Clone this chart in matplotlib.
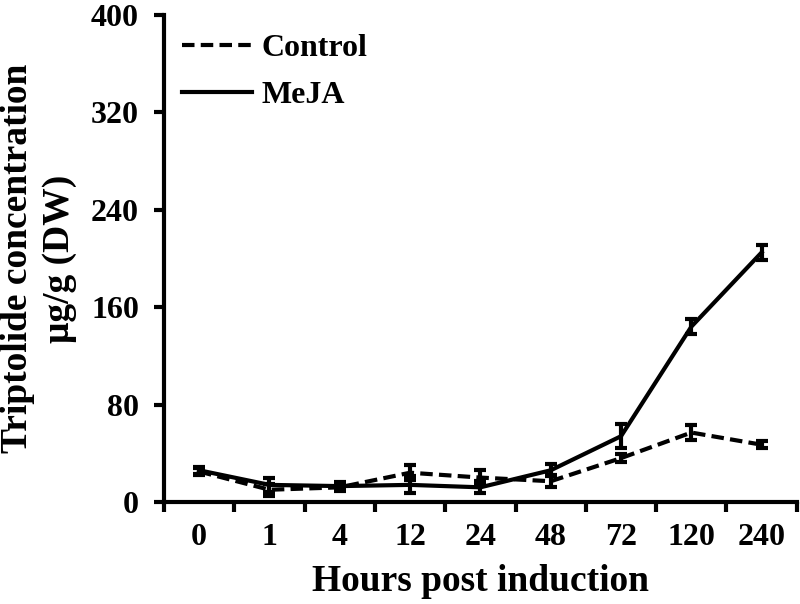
import matplotlib
matplotlib.use("Agg")
import matplotlib.pyplot as plt
from matplotlib.lines import Line2D
import numpy as np

categories = ["0", "1", "4", "12", "24", "48", "72", "120", "240"]
control = [25, 10, 12, 24, 20, 17, 36, 57, 47]
control_err = [3, 5, 3, 6, 6, 5, 3, 6, 3]
meja = [26, 14, 13, 14, 12, 26, 54, 144, 205]
meja_err = [3, 6, 3, 7, 5, 5, 10, 6, 6]

plt.rcParams['font.family'] = ['Liberation Serif', 'DejaVu Serif']
plt.rcParams['font.weight'] = 'bold'

fig = plt.figure(figsize=(8, 6.04), dpi=100)
ax = fig.add_axes([0.205, 0.169, 0.791, 0.806])

dash = (0, (3, 1.5))
x = np.arange(len(categories))
ax.errorbar(x, control, yerr=control_err, color='black', lw=3, ls=dash,
            capsize=4, capthick=3, elinewidth=3, label='Control')
ax.errorbar(x, meja, yerr=meja_err, color='black', lw=3, ls='-',
            capsize=4, capthick=3, elinewidth=3, label='MeJA')

ax.set_xlim(-0.5, len(categories) - 0.5)
ax.set_ylim(0, 400)
ax.set_yticks(np.arange(0, 401, 80))
ax.set_xticks(x)
ax.set_xticklabels(categories)
ax.set_xticks(np.arange(-0.5, len(categories), 1), minor=True)
ax.tick_params(axis='x', which='major', length=0, labelsize=23, pad=15)
ax.tick_params(axis='x', which='minor', length=7, width=3, direction='out')
ax.tick_params(axis='y', which='major', length=7, width=3, direction='out', labelsize=23, pad=11)
for lab in ax.get_xticklabels() + ax.get_yticklabels():
    lab.set_fontweight('bold')

for s in ['top', 'right']:
    ax.spines[s].set_visible(False)
for s in ['left', 'bottom']:
    ax.spines[s].set_linewidth(3)

ax.set_xlabel('Hours post induction', fontsize=27, fontweight='bold', labelpad=9)
ax.set_ylabel('Triptolide concentration\nμg/g (DW)', fontsize=27, fontweight='bold',
              labelpad=10, linespacing=1.25)

h = [Line2D([0], [0], color='black', lw=3, ls=dash),
     Line2D([0], [0], color='black', lw=3)]
ax.legend(h, ['Control', 'MeJA'], loc='upper left', frameon=False,
          prop={'size': 23, 'weight': 'bold'}, handlelength=2.2,
          handletextpad=0.3, labelspacing=0.55, bbox_to_anchor=(-0.017, 1.02))

fig.savefig('out.png', dpi=100)
